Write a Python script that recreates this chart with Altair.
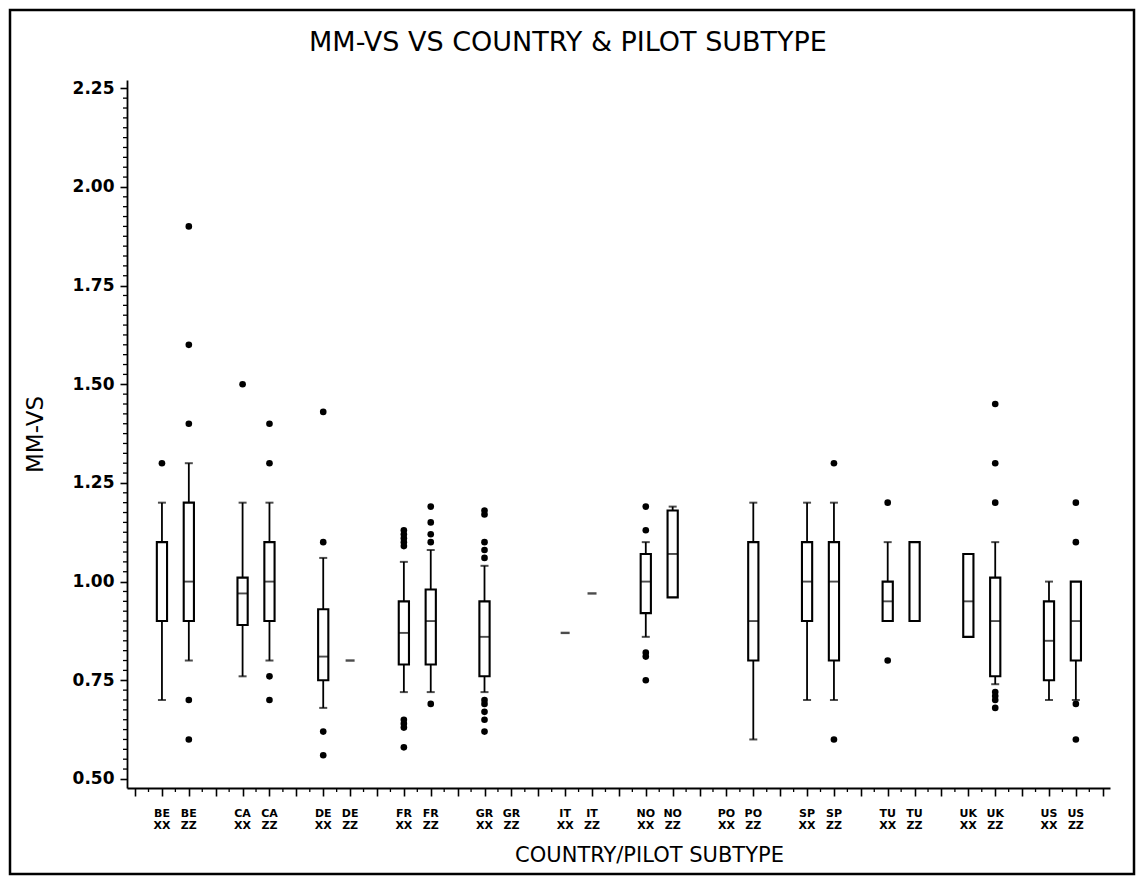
import altair as alt
import pandas as pd

# ---------------- data ----------------
countries = ["BE", "CA", "DE", "FR", "GR", "IT", "NO", "PO", "SP", "TU", "UK", "US"]
subtypes = ["XX", "ZZ"]

box_country = ["BE", "BE", "CA", "CA", "DE", "FR", "FR", "GR", "NO", "NO",
               "PO", "SP", "SP", "TU", "TU", "UK", "UK", "US", "US"]
box_subtype = ["XX", "ZZ", "XX", "ZZ", "XX", "XX", "ZZ", "XX", "XX", "ZZ",
               "ZZ", "XX", "ZZ", "XX", "ZZ", "XX", "ZZ", "XX", "ZZ"]
box_q1 = [0.90, 0.90, 0.89, 0.90, 0.75, 0.79, 0.79, 0.76, 0.92, 0.96,
          0.80, 0.90, 0.80, 0.90, 0.90, 0.86, 0.76, 0.75, 0.80]
box_median = [None, 1.00, 0.97, 1.00, 0.81, 0.87, 0.90, 0.86, 1.00, 1.07,
              0.90, 1.00, 1.00, 0.95, None, 0.95, 0.90, 0.85, 0.90]
box_q3 = [1.10, 1.20, 1.01, 1.10, 0.93, 0.95, 0.98, 0.95, 1.07, 1.18,
          1.10, 1.10, 1.10, 1.00, 1.10, 1.07, 1.01, 0.95, 1.00]
whisker_low = [0.70, 0.80, 0.76, 0.80, 0.68, 0.72, 0.72, 0.72, 0.86, 0.96,
               0.60, 0.70, 0.70, 0.90, 0.90, 0.86, 0.74, 0.70, 0.70]
whisker_high = [1.20, 1.30, 1.20, 1.20, 1.06, 1.05, 1.08, 1.04, 1.10, 1.19,
                1.20, 1.20, 1.20, 1.10, 1.10, 1.07, 1.10, 1.00, 1.00]

single_country = ["DE", "IT", "IT"]
single_subtype = ["ZZ", "XX", "ZZ"]
single_value = [0.80, 0.87, 0.97]

outlier_country = (["BE"] + ["BE"] * 5 + ["CA"] + ["CA"] * 4 + ["DE"] * 4 +
                   ["FR"] * 9 + ["FR"] * 5 + ["GR"] * 10 + ["NO"] * 5 +
                   ["SP"] * 2 + ["TU"] * 2 + ["UK"] * 7 + ["US"] * 4)
outlier_subtype = (["XX"] + ["ZZ"] * 5 + ["XX"] + ["ZZ"] * 4 + ["XX"] * 4 +
                   ["XX"] * 9 + ["ZZ"] * 5 + ["XX"] * 10 + ["XX"] * 5 +
                   ["ZZ"] * 2 + ["XX"] * 2 + ["ZZ"] * 7 + ["ZZ"] * 4)
outlier_value = ([1.30] +
                 [1.90, 1.60, 1.40, 0.70, 0.60] +
                 [1.50] +
                 [1.40, 1.30, 0.76, 0.70] +
                 [1.43, 1.10, 0.62, 0.56] +
                 [1.13, 1.12, 1.11, 1.10, 1.09, 0.65, 0.64, 0.63, 0.58] +
                 [1.19, 1.15, 1.12, 1.10, 0.69] +
                 [1.18, 1.17, 1.10, 1.08, 1.06, 0.70, 0.69, 0.67, 0.65, 0.62] +
                 [1.19, 1.13, 0.82, 0.81, 0.75] +
                 [1.30, 0.60] +
                 [1.20, 0.80] +
                 [1.45, 1.30, 1.20, 0.72, 0.71, 0.70, 0.68] +
                 [1.20, 1.10, 0.69, 0.60])

y_major_ticks = [0.50, 0.75, 1.00, 1.25, 1.50, 1.75, 2.00, 2.25]
title_text = ["MM-VS VS COUNTRY & PILOT SUBTYPE"]

# ---------------- tables ----------------
def slot_of(c, s):
    return 3 * countries.index(c) + (1 if s == "XX" else 2)

box_df = pd.DataFrame({
    "slot": [slot_of(c, s) for c, s in zip(box_country, box_subtype)],
    "q1": box_q1, "median": box_median, "q3": box_q3,
    "wlo": whisker_low, "whi": whisker_high,
})
single_df = pd.DataFrame({
    "slot": [slot_of(c, s) for c, s in zip(single_country, single_subtype)],
    "value": single_value,
})
out_df = pd.DataFrame({
    "slot": [slot_of(c, s) for c, s in zip(outlier_country, outlier_subtype)],
    "value": outlier_value,
})
label_df = pd.DataFrame({
    "slot": [slot_of(c, s) for c in countries for s in subtypes],
    "label": [f"{c}\n{s}" for c in countries for s in subtypes],
})
x_minor_df = pd.DataFrame({"slot": [k + 0.5 for k in range(36)]})
y_minor_df = pd.DataFrame({"v": [round(0.5 + 0.025 * k, 3) for k in range(71) if k % 10 != 0]})
frame_df = pd.DataFrame({"a": [0]})
title_df = pd.DataFrame({"t": title_text})

W, H = 983, 708
FONT = "DejaVu Sans"

xscale = alt.Scale(domain=[-0.3, 36.27], nice=False, zero=False)
yscale = alt.Scale(domain=[0.477, 2.271], nice=False, zero=False)

xaxis = alt.Axis(values=list(range(37)), labels=False, tickSize=8, tickWidth=1.6,
                 domainWidth=1.8, title="COUNTRY/PILOT SUBTYPE",
                 titleFontSize=21, titleFontWeight="normal", titleFont=FONT,
                 titleX=522, titleY=67, titleBaseline="middle", titleAlign="center")
yaxis = alt.Axis(values=y_major_ticks, format=".2f", tickSize=7, tickWidth=1.6,
                 domainWidth=1.8, labelPadding=6, labelFontSize=17, labelFont=FONT,
                 labelFontWeight="bold",
                 title="MM-VS", titleFontSize=23, titleFontWeight="normal", titleFont=FONT,
                 titleX=-92, titleY=354, titleAngle=270, titleBaseline="middle",
                 titleAlign="center")

X = alt.X("slot:Q", scale=xscale, axis=xaxis)
def Y(field):
    return alt.Y(f"{field}:Q", scale=yscale, axis=yaxis)

base = alt.Chart(box_df)

whisk_hi = base.mark_rule(color="black", strokeWidth=1.8).encode(x=X, y=Y("q3"), y2="whi:Q")
whisk_lo = base.mark_rule(color="black", strokeWidth=1.8).encode(x=X, y=Y("wlo"), y2="q1:Q")
cap_hi = base.transform_filter("datum.whi > datum.q3").mark_tick(
    orient="horizontal", size=8, thickness=2, color="black").encode(x=X, y=Y("whi"))
cap_lo = base.transform_filter("datum.wlo < datum.q1").mark_tick(
    orient="horizontal", size=8, thickness=2, color="black").encode(x=X, y=Y("wlo"))
boxes = base.transform_calculate(
    xl="datum.slot - 0.19", xr="datum.slot + 0.19").mark_rect(
    fill="white", stroke="black", strokeWidth=2.1).encode(
    x=alt.X("xl:Q", scale=xscale, axis=xaxis), x2="xr:Q", y=Y("q1"), y2="q3:Q")
medians = base.transform_filter("isValid(datum.median)").mark_tick(
    orient="horizontal", size=10, thickness=1.9, color="black").encode(x=X, y=Y("median"))

singles = alt.Chart(single_df).mark_tick(
    orient="horizontal", size=9, thickness=2.4, color="black").encode(x=X, y=Y("value"))
outliers = alt.Chart(out_df).mark_circle(size=44, color="black", opacity=1).encode(x=X, y=Y("value"))

x_minor = alt.Chart(x_minor_df).mark_rule(color="black", strokeWidth=1.3).encode(
    x=X, y=alt.value(H), y2=alt.value(H + 4))
y_minor = alt.Chart(y_minor_df).mark_rule(color="black", strokeWidth=1.3).encode(
    y=Y("v"), x=alt.value(-4), x2=alt.value(0))

labels = alt.Chart(label_df).mark_text(
    font=FONT, fontSize=11, fontWeight="bold", lineBreak="\n", lineHeight=12,
    baseline="top", align="center", color="black").encode(
    x=X, y=alt.value(H + 20), text="label:N")

title = alt.Chart(title_df).mark_text(
    font=FONT, fontSize=27, fontWeight="normal", baseline="middle", align="center",
    color="black").encode(x=alt.value(441), y=alt.value(-37), text="t:N")

frame = alt.Chart(frame_df).mark_rect(fill=None, stroke="black", strokeWidth=2.5).encode(
    x=alt.value(-117), x2=alt.value(1007), y=alt.value(-70), y2=alt.value(H + 86))

chart = alt.layer(
    frame, whisk_hi, whisk_lo, cap_hi, cap_lo, boxes, medians, singles, outliers,
    x_minor, y_minor, labels, title,
).properties(
    width=W, height=H,
    autosize=alt.AutoSizeParams(type="none"),
    padding={"left": 119, "top": 72, "right": 26, "bottom": 88},
).configure_view(stroke=None).configure_axis(
    grid=False, domainColor="black", tickColor="black", labelColor="black",
    titleColor="black")

chart.save("out.html", embed_options={"renderer": "svg", "actions": False})
